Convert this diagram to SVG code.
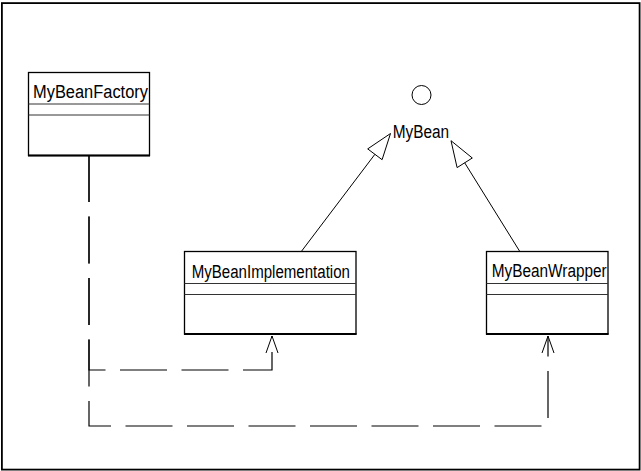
<svg xmlns="http://www.w3.org/2000/svg" width="641" height="471" viewBox="0 0 641 471">
<style>
.box{fill:#fff;stroke:#000;stroke-width:1.3}
.sep{stroke:#333;stroke-width:1}
.base{stroke:#000;stroke-width:2}
.lbl{font-family:"Liberation Sans",Arial,sans-serif;font-size:18px;fill:#000}
.gen{fill:none;stroke:#000;stroke-width:1}
.dep{fill:none;stroke:#000;stroke-width:1.2;stroke-dasharray:47 14.5}
.head{fill:none;stroke:#000;stroke-width:1}
</style>
<rect x="1.9" y="3.1" width="637.7" height="466.5" fill="#fff" stroke="#000" stroke-width="1.8"/>
<g id="connectors">
  <line class="gen" x1="301.7" y1="251" x2="374.9" y2="154.3"/>
  <polygon class="head" points="390.5,133.5 382.1,159.7 367.7,148.9"/>
  <line class="gen" x1="519.5" y1="251" x2="464.7" y2="162.8"/>
  <polygon class="head" points="451,140.7 472.3,158 457.1,167.6"/>
  <path class="dep" d="M89,155 V370 H272 V336"/>
  <polyline class="head" points="266,353 272,336 278,353"/>
  <path class="dep" d="M89,155 V426 H548 V336"/>
  <polyline class="head" points="542,353 548,336 554,353"/>
</g>
<g id="MyBeanFactory">
  <rect class="box" x="28.5" y="72.5" width="121" height="83"/>
  <line class="sep" x1="28.5" y1="104" x2="149.5" y2="104"/>
  <line class="sep" x1="28.5" y1="115" x2="149.5" y2="115"/>
  <line class="base" x1="28" y1="155.5" x2="150" y2="155.5"/>
  <text class="lbl" x="33" y="97.5" textLength="115" lengthAdjust="spacingAndGlyphs">MyBeanFactory</text>
</g>
<g id="MyBean">
  <ellipse cx="421.5" cy="95" rx="9.5" ry="9.5" fill="#fff" stroke="#000" stroke-width="1"/>
  <text class="lbl" x="392.7" y="137.5" textLength="56.5" lengthAdjust="spacingAndGlyphs">MyBean</text>
</g>
<g id="MyBeanImplementation">
  <rect class="box" x="184.5" y="251.5" width="171.5" height="82.5"/>
  <line class="sep" x1="184.5" y1="283.5" x2="356" y2="283.5"/>
  <line class="sep" x1="184.5" y1="294.5" x2="356" y2="294.5"/>
  <line class="base" x1="184" y1="334" x2="356.5" y2="334"/>
  <text class="lbl" x="191.7" y="278" textLength="158.3" lengthAdjust="spacingAndGlyphs">MyBeanImplementation</text>
</g>
<g id="MyBeanWrapper">
  <rect class="box" x="486.5" y="251.5" width="121.5" height="82.5"/>
  <line class="sep" x1="486.5" y1="283.5" x2="608" y2="283.5"/>
  <line class="sep" x1="486.5" y1="294.5" x2="608" y2="294.5"/>
  <line class="base" x1="486" y1="334" x2="608.5" y2="334"/>
  <text class="lbl" x="491.7" y="277" textLength="115" lengthAdjust="spacingAndGlyphs">MyBeanWrapper</text>
</g>
</svg>
